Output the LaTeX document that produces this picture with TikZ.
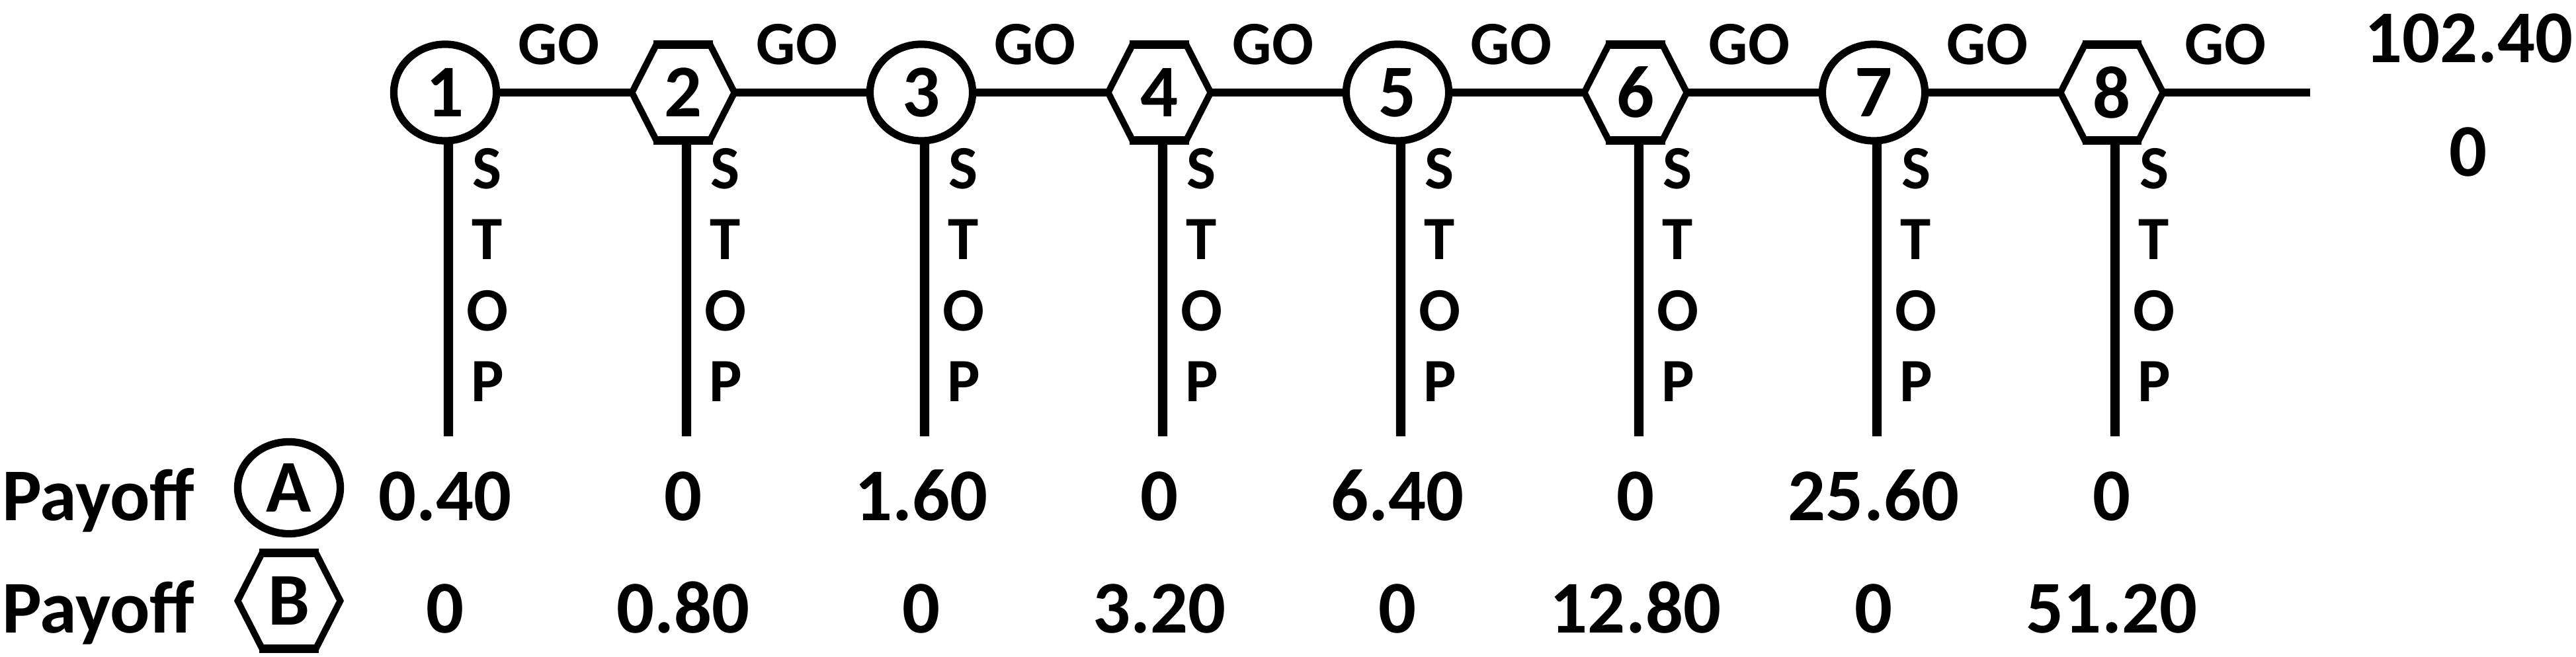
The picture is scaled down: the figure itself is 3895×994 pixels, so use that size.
\documentclass[tikz,border=0pt]{standalone}
\usepackage{fontspec}
\setmainfont{Carlito}
\usetikzlibrary{shapes.geometric}
\newcommand\bigtxt{\fontsize{32}{38}\selectfont\bfseries}
\newcommand\smalltxt{\fontsize{26.5}{30}\selectfont\bfseries}
\newcommand\drawhex[1]{%
  \draw[hexline] ([xshift=0.37cm]#1.north west) -- ([xshift=-0.37cm]#1.north east) -- (#1.east)
     -- ([xshift=-0.37cm]#1.south east) -- ([xshift=0.37cm]#1.south west) -- (#1.west) -- cycle;
  \draw[hexedge] ([xshift=0.33cm]#1.north west) -- ([xshift=-0.33cm]#1.north east);
  \draw[hexedge] ([xshift=0.33cm]#1.south west) -- ([xshift=-0.33cm]#1.south east);
}
\begin{document}
\begin{tikzpicture}[x=0.01cm,y=-0.01cm,
  every node/.style={font=\bigtxt, inner sep=0pt, outer sep=0pt},
  circnode/.style={ellipse, draw, line width=3.2pt, minimum width=1.55cm, minimum height=1.46cm},
  hexnode/.style={rectangle, minimum width=1.55cm, minimum height=1.45cm},
  hexline/.style={line width=2.8pt, line join=miter},
  hexedge/.style={line width=3.8pt},
  conn/.style={line width=3.4pt},
  stopline/.style={line width=4pt},
  lbl/.style={font=\smalltxt, anchor=base},
  val/.style={font=\bigtxt, anchor=base}]
\useasboundingbox (0,0) rectangle (3895,994);

% decision nodes
\foreach \i in {1,...,8}{
  \pgfmathsetmacro\xx{673+360*(\i-1)}
  \ifodd\i\relax
    \node[circnode] (n\i) at (\xx,140) {\i};
  \else
    \node[hexnode] (n\i) at (\xx,140) {\i};
    \drawhex{n\i}
  \fi
  \node[lbl] (go\i) at ({\xx+172},98) {GO};
  \foreach \l [count=\k from 0] in {S,T,O,P}{
    \node[lbl] (st\i\l) at ({\xx+64},{286+107*\k}) {\l};
  }
  \coordinate (b\i) at ({\xx+5},660);
  \draw[stopline] ([xshift=0.05cm]n\i.south) -- (b\i);
}

% GO connectors
\foreach \i [count=\j from 2] in {1,...,7}{
  \draw[conn] (n\i) -- (n\j);
}
\coordinate (end) at (3493,140);
\draw[conn] (n8) -- (end);

% final payoffs
\node[val] (fa) at (3733,95) {102.40};
\node[val] (fb) at (3732,267) {0};

% payoff rows
\node[val, anchor=base west] (pa) at (3,787) {Payoff};
\node[val, anchor=base west] (pb) at (3,957) {Payoff};
\node[circnode, minimum height=1.39cm] (A) at (437,738) {A};
\node[hexnode] (B) at (437,909) {B};
\drawhex{B}

\foreach \v [count=\i] in {0.40,0,1.60,0,6.40,0,25.60,0}{
  \node[val] (va\i) at ({673+360*(\i-1)},787) {\v};
}
\foreach \v [count=\i] in {0,0.80,0,3.20,0,12.80,0,51.20}{
  \node[val] (vb\i) at ({673+360*(\i-1)},957) {\v};
}
\end{tikzpicture}
\end{document}
